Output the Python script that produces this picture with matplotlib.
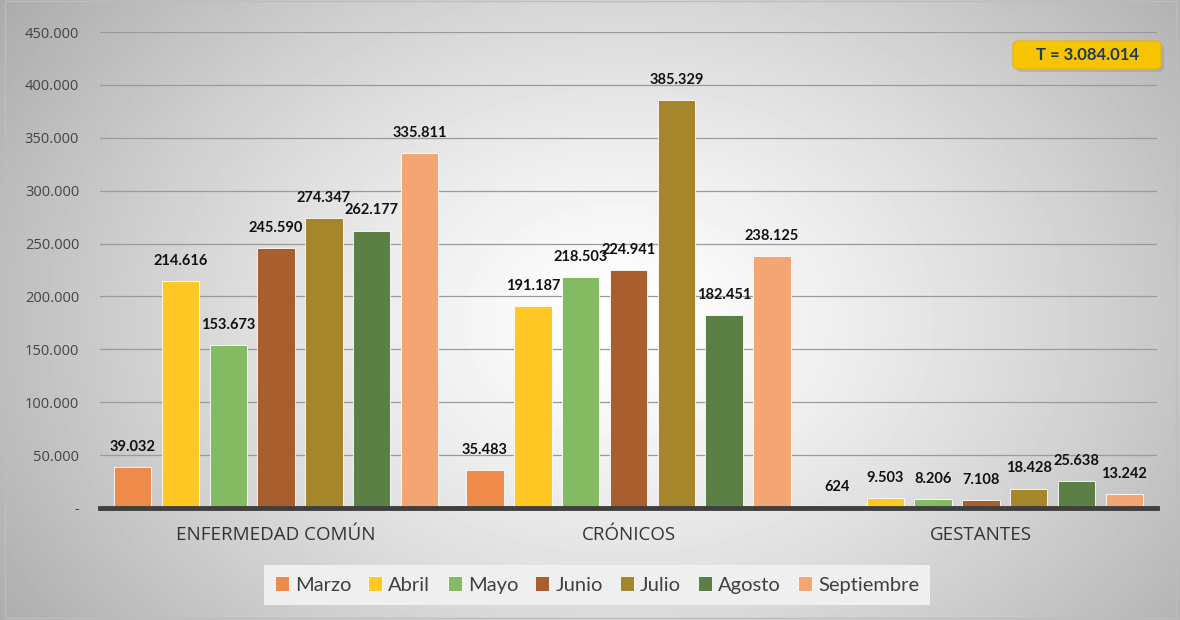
import matplotlib.pyplot as plt
import numpy as np
from matplotlib.patches import FancyBboxPatch, Rectangle

# Data
categories = ['ENFERMEDAD COMÚN', 'CRÓNICOS', 'GESTANTES']
months = ['Marzo', 'Abril', 'Mayo', 'Junio', 'Julio', 'Agosto', 'Septiembre']
marzo = [39032, 35483, 624]
abril = [214616, 191187, 9503]
mayo = [153673, 218503, 8206]
junio = [245590, 224941, 7108]
julio = [274347, 385329, 18428]
agosto = [262177, 182451, 25638]
septiembre = [335811, 238125, 13242]
series = [marzo, abril, mayo, junio, julio, agosto, septiembre]
colors = ['#EE8B4B', '#FFC825', '#84BA61', '#A95E2E', '#A6862A', '#5B7F45', '#F3A674']
total_label = 'T = 3.084.014'
yticks = np.arange(0, 450001, 50000)


def fmt(v):
    return f'{v:,.0f}'.replace(',', '.')


fig = plt.figure(figsize=(11.8, 6.2), dpi=100)

# radial gray background
bg = fig.add_axes([0, 0, 1, 1], zorder=-10)
yy, xx = np.mgrid[0:620, 0:1180]
r = np.sqrt(((xx - 620) / 700.0) ** 2 + ((yy - 320) / 520.0) ** 2)
shade = np.clip(1.0 - 0.3 * r ** 1.3, 0, 1)
bg.imshow(shade, cmap='gray', vmin=0, vmax=1, extent=[0, 1180, 620, 0], aspect='auto')
bg.set_xlim(0, 1180)
bg.set_ylim(620, 0)
bg.axis('off')
bg.add_patch(Rectangle((5, 1), 1171, 617, fill=False, edgecolor='#BDBDBD', lw=1))

ax = fig.add_axes([100 / 1180, 1 - 508 / 620, 1057 / 1180, 476 / 620])
ax.set_facecolor('none')

x = np.arange(len(categories))
width = 0.106
step = 0.1357
for i, (vals, c) in enumerate(zip(series, colors)):
    pos = x + (i - 3) * step
    bars = ax.bar(pos, vals, width, color=c, edgecolor='#FFFFFF', linewidth=0.6,
                  label=months[i], zorder=3)
    for b, v in zip(bars, vals):
        ax.annotate(fmt(v), xy=(b.get_x() + b.get_width() / 2, v), xytext=(0, 9.5),
                    textcoords='offset points', ha='center', va='bottom',
                    fontsize=10.5, fontweight='bold', family='Lato', color='#111111')

ax.set_xlim(-0.5, 2.5)
ax.set_ylim(0, 450000)
ax.set_yticks(yticks)
ax.set_yticklabels(['-'] + [fmt(v) for v in yticks[1:]], family='Open Sans',
                   fontsize=10.5, color='#444444')
ax.set_xticks(x)
ax.set_xticklabels(categories, family='Open Sans', fontsize=13.5, color='#333333')
ax.tick_params(axis='both', length=0)
ax.tick_params(axis='y', pad=15)
ax.tick_params(axis='x', pad=13)
ax.grid(axis='y', color='#9A9A9A', linewidth=0.9, zorder=0)
for s in ['top', 'right', 'left']:
    ax.spines[s].set_visible(False)
ax.spines['bottom'].set_color('#3F3F3F')
ax.spines['bottom'].set_linewidth(3.5)
ax.spines['bottom'].set_zorder(4)

# legend
handles, labels = ax.get_legend_handles_labels()
leg = fig.legend(handles, labels, loc='center', bbox_to_anchor=(597 / 1180, 1 - 585 / 620),
                 ncol=7, frameon=True, fancybox=False, handlelength=0.7, handleheight=0.7,
                 handletextpad=0.3, columnspacing=0.85, borderpad=0.55,
                 prop={'family': 'Lato', 'size': 14.5})
leg.get_frame().set_facecolor('#EFEFEF')
leg.get_frame().set_edgecolor('none')
leg.get_frame().set_alpha(1)
for t in leg.get_texts():
    t.set_color('#404040')

# total badge
bg.add_patch(FancyBboxPatch((1016, 44), 148, 28, boxstyle='round,pad=0,rounding_size=5',
                            facecolor='#9E9E9E', edgecolor='none', alpha=0.5, zorder=2))
bg.add_patch(FancyBboxPatch((1013, 41), 148, 28, boxstyle='round,pad=0,rounding_size=5',
                            facecolor='#F6C400', edgecolor='#E8B500', lw=0.8, zorder=3))
bg.text(1087, 55, total_label, ha='center', va='center', fontsize=12,
        fontweight='bold', family='Lato', color='#1F3B5C', zorder=4)

fig.savefig('out.png', dpi=100)
